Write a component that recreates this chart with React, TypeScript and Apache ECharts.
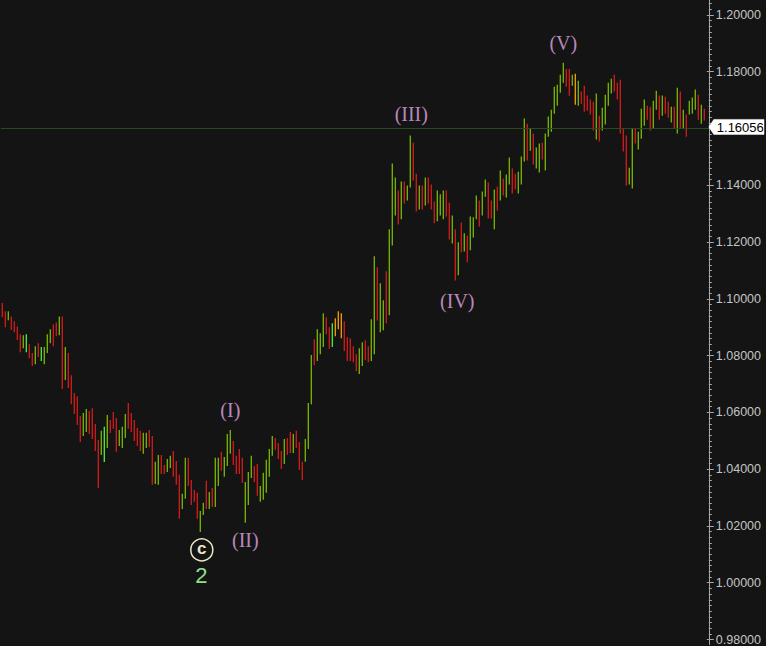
import React, { useEffect, useRef } from "react";
import * as echarts from "echarts";

// Bar highs (price), one per weekly bar
const highs = [
  1.0985, 1.0956, 1.0956, 1.0938, 1.0921, 1.0903, 1.0875, 1.0872, 1.0875, 1.0840,
  1.0809, 1.0833, 1.0844, 1.0830, 1.0830, 1.0875, 1.0893, 1.0910, 1.0917, 1.0938,
  1.0938, 1.0830, 1.0809, 1.0731, 1.0668, 1.0657, 1.0587, 1.0598, 1.0612, 1.0605,
  1.0615, 1.0559, 1.0503, 1.0535, 1.0549, 1.0591, 1.0573, 1.0601, 1.0580, 1.0538,
  1.0549, 1.0594, 1.0633, 1.0598, 1.0573, 1.0545, 1.0535, 1.0528, 1.0528, 1.0538,
  1.0517, 1.0426, 1.0450, 1.0450, 1.0415, 1.0436, 1.0447, 1.0464, 1.0429, 1.0380,
  1.0313, 1.0440, 1.0440, 1.0362, 1.0327, 1.0317, 1.0253, 1.0282, 1.0359, 1.0320,
  1.0334, 1.0440, 1.0440, 1.0461, 1.0443, 1.0524, 1.0538, 1.0499, 1.0447, 1.0471,
  1.0440, 1.0355, 1.0390, 1.0447, 1.0411, 1.0418, 1.0341, 1.0387, 1.0433, 1.0471,
  1.0517, 1.0510, 1.0492, 1.0464, 1.0506, 1.0510, 1.0531, 1.0524, 1.0535, 1.0496,
  1.0426, 1.0506, 1.0633, 1.0802, 1.0858, 1.0893, 1.0879, 1.0949, 1.0935, 1.0900,
  1.0914, 1.0932, 1.0956, 1.0949, 1.0921, 1.0865, 1.0861, 1.0833, 1.0805, 1.0826,
  1.0847, 1.0854, 1.0833, 1.0928, 1.1150, 1.1111, 1.1055, 1.0995, 1.1097, 1.1245,
  1.1477, 1.1427, 1.1382, 1.1413, 1.1413, 1.1399, 1.1575, 1.1550, 1.1441, 1.1399,
  1.1399, 1.1427, 1.1427, 1.1403, 1.1343, 1.1382, 1.1368, 1.1382, 1.1382, 1.1339,
  1.1294, 1.1245, 1.1199, 1.1269, 1.1231, 1.1223, 1.1290, 1.1287, 1.1364, 1.1346,
  1.1378, 1.1420, 1.1410, 1.1346, 1.1385, 1.1396, 1.1452, 1.1424, 1.1438, 1.1498,
  1.1459, 1.1441, 1.1448, 1.1501, 1.1635, 1.1617, 1.1600, 1.1582, 1.1533, 1.1547,
  1.1550, 1.1582, 1.1642, 1.1666, 1.1747, 1.1754, 1.1789, 1.1832, 1.1810, 1.1810,
  1.1789, 1.1793, 1.1768, 1.1730, 1.1751, 1.1716, 1.1702, 1.1694, 1.1723, 1.1645,
  1.1673, 1.1719, 1.1761, 1.1775, 1.1789, 1.1761, 1.1772, 1.1600, 1.1575, 1.1462,
  1.1600, 1.1600, 1.1589, 1.1670, 1.1702, 1.1680, 1.1677, 1.1698, 1.1733, 1.1716,
  1.1716, 1.1712, 1.1694, 1.1677, 1.1677, 1.1744, 1.1730, 1.1666, 1.1649, 1.1698,
  1.1709, 1.1737, 1.1719, 1.1684, 1.1670,
];

// Bar lows (price)
const lows = [
  1.0935, 1.0900, 1.0925, 1.0890, 1.0882, 1.0855, 1.0812, 1.0826, 1.0812, 1.0791,
  1.0763, 1.0770, 1.0795, 1.0781, 1.0770, 1.0809, 1.0844, 1.0833, 1.0868, 1.0872,
  1.0682, 1.0714, 1.0686, 1.0629, 1.0594, 1.0556, 1.0496, 1.0517, 1.0531, 1.0524,
  1.0506, 1.0464, 1.0334, 1.0450, 1.0425, 1.0475, 1.0527, 1.0542, 1.0461, 1.0482,
  1.0475, 1.0510, 1.0542, 1.0531, 1.0499, 1.0482, 1.0464, 1.0454, 1.0475, 1.0478,
  1.0345, 1.0348, 1.0345, 1.0383, 1.0383, 1.0390, 1.0404, 1.0373, 1.0345, 1.0225,
  1.0260, 1.0296, 1.0341, 1.0274, 1.0285, 1.0225, 1.0179, 1.0239, 1.0260, 1.0260,
  1.0267, 1.0267, 1.0341, 1.0394, 1.0373, 1.0411, 1.0454, 1.0415, 1.0383, 1.0383,
  1.0352, 1.0211, 1.0274, 1.0369, 1.0355, 1.0306, 1.0285, 1.0292, 1.0317, 1.0373,
  1.0447, 1.0468, 1.0436, 1.0401, 1.0418, 1.0450, 1.0457, 1.0457, 1.0475, 1.0397,
  1.0362, 1.0426, 1.0471, 1.0629, 1.0767, 1.0781, 1.0805, 1.0830, 1.0875, 1.0823,
  1.0830, 1.0868, 1.0893, 1.0861, 1.0816, 1.0781, 1.0781, 1.0777, 1.0745, 1.0735,
  1.0763, 1.0784, 1.0777, 1.0781, 1.0805, 1.0924, 1.0882, 1.0889, 1.0914, 1.0942,
  1.1188, 1.1294, 1.1262, 1.1280, 1.1336, 1.1346, 1.1392, 1.1417, 1.1308, 1.1315,
  1.1315, 1.1329, 1.1336, 1.1315, 1.1266, 1.1273, 1.1294, 1.1280, 1.1290, 1.1209,
  1.1195, 1.1065, 1.1083, 1.1164, 1.1167, 1.1129, 1.1171, 1.1216, 1.1280, 1.1255,
  1.1294, 1.1360, 1.1283, 1.1283, 1.1245, 1.1311, 1.1346, 1.1364, 1.1357, 1.1403,
  1.1371, 1.1385, 1.1371, 1.1403, 1.1484, 1.1487, 1.1522, 1.1473, 1.1459, 1.1445,
  1.1491, 1.1452, 1.1571, 1.1589, 1.1652, 1.1680, 1.1726, 1.1761, 1.1747, 1.1715,
  1.1751, 1.1684, 1.1680, 1.1687, 1.1659, 1.1663, 1.1649, 1.1593, 1.1561, 1.1554,
  1.1593, 1.1614, 1.1680, 1.1723, 1.1730, 1.1702, 1.1582, 1.1519, 1.1399, 1.1403,
  1.1389, 1.1547, 1.1526, 1.1564, 1.1610, 1.1631, 1.1593, 1.1600, 1.1666, 1.1631,
  1.1645, 1.1652, 1.1638, 1.1621, 1.1600, 1.1582, 1.1600, 1.1600, 1.1571, 1.1649,
  1.1652, 1.1666, 1.1631, 1.1617, 1.1628,
];

// Bar colour codes: g = up, r = down, b = bright green, o = orange
const dirs =
  "rrgrrrrgbr" + "rgrbgggrrg" + "rgrrrrrggr" + "rrrgbgrrrg" + "ggrrrrrggr" +
  "rggrrggrrr" + "ggrrrrggrg" + "rggrgggrrr" + "rgggrrgggg" + "grrrgrrgrr" +
  "rgggrgggrr" + "booorrrrrg" + "grrggrggrg" + "ggrgrggrrg" + "rgrrrgggrr" +
  "grgrgrgggr" + "ggrrgrgrgg" + "rrgggrgrgg" + "rgggggggrr" + "gogrrrrrgr" +
  "ggggrrrrrg" + "grgggrrggr" + "grrgrgrgrg" + "ggrgr";

const lastPrice = 1.16056;

// Axis tick labels
const yLabels = [0.98, 1.0, 1.02, 1.04, 1.06, 1.08, 1.1, 1.12, 1.14, 1.18, 1.2];
const majorTicks = [0.98, 1.0, 1.02, 1.04, 1.06, 1.08, 1.1, 1.12, 1.14, 1.16, 1.18, 1.2];

// Elliott wave annotations
const waveNames = ["(I)", "(II)", "(III)", "(IV)", "(V)"];
const waveBars = [77, 82, 137, 152, 188];
const waveAtHigh = [true, false, true, false, true];
const cBar = 67;

const COLORS: Record<string, string> = {
  g: "#78b800",
  r: "#d41c1c",
  b: "#4cf03a",
  o: "#f5a000",
};

const Y_MIN = 0.97824;
const Y_MAX = 1.20527;
const GRID_LEFT = 0.8;
const GRID_W = 708;

export default function App() {
  const ref = useRef<HTMLDivElement>(null);

  useEffect(() => {
    if (!ref.current) return;
    const chart = echarts.init(ref.current, null, { renderer: "svg" });

    const categories = highs.map((_, i) => String(i + 1)).concat([""]);
    const barData = highs.map((h, i) => [i, h, lows[i]]);

    const minorTicks: number[] = [];
    for (let k = 489; k <= 602; k++) minorTicks.push(+(k * 0.002).toFixed(3));

    const axisColor = "#a8a8a8";
    const waveOffsets = [-20, 17, -22, 21, -20];
    const waveDx = [0, 0, 1, 2, 0];

    const waveData = waveNames.map((name, i) => {
      const idx = waveBars[i] - 1;
      return {
        value: [idx, waveAtHigh[i] ? highs[idx] : lows[idx]],
        label: { formatter: name, offset: [waveDx[i], waveOffsets[i]] },
      };
    });

    chart.setOption({
      animation: false,
      backgroundColor: "#141414",
      grid: { left: GRID_LEFT, top: 0, width: GRID_W, height: 646 },
      xAxis: {
        type: "category",
        data: categories,
        boundaryGap: true,
        show: false,
      },
      yAxis: [
        {
          type: "value",
          position: "right",
          min: Y_MIN,
          max: Y_MAX,
          splitLine: { show: false },
          axisLine: { show: true, lineStyle: { color: axisColor, width: 1 } },
          axisTick: {
            show: true,
            customValues: minorTicks,
            length: 3,
            lineStyle: { color: axisColor, width: 1 },
          },
          axisLabel: {
            show: true,
            customValues: yLabels,
            formatter: (v: number) => v.toFixed(5),
            color: "#c4c4c4",
            fontFamily: "Liberation Sans, Arial, sans-serif",
            fontSize: 12.5,
            margin: 7,
          },
        },
        {
          type: "value",
          position: "right",
          min: Y_MIN,
          max: Y_MAX,
          splitLine: { show: false },
          axisLine: { show: false },
          axisTick: {
            show: true,
            customValues: majorTicks,
            length: 5,
            lineStyle: { color: axisColor, width: 1 },
          },
          axisLabel: { show: false },
        },
        {
          type: "value",
          position: "right",
          min: Y_MIN,
          max: Y_MAX,
          splitLine: { show: false },
          axisLine: { show: false },
          axisTick: {
            show: true,
            inside: true,
            customValues: majorTicks,
            length: 2,
            lineStyle: { color: axisColor, width: 1 },
          },
          axisLabel: { show: false },
        },
      ],
      series: [
        {
          type: "custom",
          name: "bars",
          data: barData,
          encode: { x: 0, y: [1, 2] },
          renderItem: (params: any, api: any) => {
            const x = api.value(0);
            const hi = api.coord([x, api.value(1)]);
            const lo = api.coord([x, api.value(2)]);
            return {
              type: "line",
              shape: { x1: hi[0], y1: hi[1], x2: lo[0], y2: lo[1] },
              style: { stroke: COLORS[dirs[x]] || COLORS.g, lineWidth: 1.3 },
            };
          },
          markLine: {
            silent: true,
            symbol: "none",
            label: { show: false },
            lineStyle: { color: "#2a4a20", width: 1, type: "solid" },
            data: [{ yAxis: lastPrice }],
          },
        },
        {
          type: "scatter",
          name: "waves",
          data: waveData,
          symbolSize: 1,
          itemStyle: { color: "rgba(0,0,0,0)" },
          label: {
            show: true,
            position: "inside",
            color: "#e4abe4",
            fontFamily: "Liberation Serif, Times New Roman, serif",
            fontSize: 20,
          },
        },
      ],
    });

    const [cx, cy] = chart.convertToPixel({ xAxisIndex: 0, yAxisIndex: 0 }, [
      categories[cBar - 1],
      lows[cBar - 1],
    ]) as number[];
    const py = chart.convertToPixel({ yAxisIndex: 0 }, lastPrice) as number;
    const ax = GRID_LEFT + GRID_W;

    chart.setOption({
      graphic: [
        {
          type: "circle",
          shape: { cx: cx + 1.5, cy: cy + 18, r: 11 },
          style: { fill: "none", stroke: "#ebe7c6", lineWidth: 1.5 },
          z: 10,
        },
        {
          type: "text",
          x: cx + 1.5,
          y: cy + 17,
          style: {
            text: "c",
            fill: "#ebe7c6",
            font: "bold 17px 'Liberation Sans', Arial, sans-serif",
            align: "center",
            verticalAlign: "middle",
          },
          z: 10,
        },
        {
          type: "text",
          x: cx + 1,
          y: cy + 44,
          style: {
            text: "2",
            fill: "#8ce08c",
            font: "22px 'Liberation Sans', Arial, sans-serif",
            align: "center",
            verticalAlign: "middle",
          },
          z: 10,
        },
        {
          type: "polygon",
          shape: {
            points: [
              [ax, py],
              [ax + 5, py - 7.5],
              [764, py - 7.5],
              [764, py + 7.5],
              [ax + 5, py + 7.5],
            ],
          },
          style: { fill: "#ffffff", stroke: "#ffffff", lineWidth: 0.5 },
          z: 20,
        },
        {
          type: "text",
          x: ax + 8,
          y: py + 0.5,
          style: {
            text: lastPrice.toFixed(5),
            fill: "#000000",
            font: "13px 'Liberation Sans', Arial, sans-serif",
            align: "left",
            verticalAlign: "middle",
          },
          z: 21,
        },
      ],
    });

    return () => chart.dispose();
  }, []);

  return (
    <div
      ref={ref}
      style={{
        position: "absolute",
        left: 0,
        top: 0,
        width: 766,
        height: 646,
        background: "#141414",
      }}
    />
  );
}
